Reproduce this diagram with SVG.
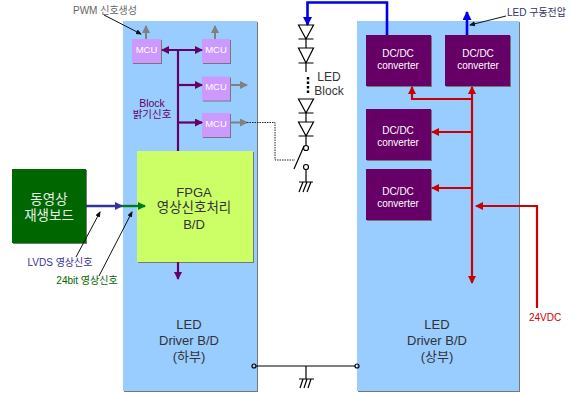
<svg xmlns="http://www.w3.org/2000/svg" width="574" height="394" viewBox="0 0 574 394">
<style>
text{font-family:"Liberation Sans","Noto Sans CJK KR",sans-serif;text-anchor:middle}
.panel{fill:#99ccff;filter:url(#sh)}
.mcu{fill:#cc99ff;filter:url(#sh)}
.mcut{fill:#fff;font-size:9.5px}
.dc{fill:#660066;filter:url(#sh)}
.dct{fill:#fff;font-size:10px}
.dark{fill:#333;font-size:13px}
.pur{stroke:#660066;stroke-width:2.2;fill:none}
.red{stroke:#cc0000;stroke-width:2.2;fill:none}
.blu{stroke:#0000e6;stroke-width:2.6;fill:none}
.gry{stroke:#808080;stroke-width:2;fill:none}
.thin{stroke:#111;stroke-width:1;fill:none}
.lin{stroke:#000;stroke-width:1.2;fill:none}
.dio{fill:none;stroke:#000;stroke-width:1.2}
</style>
<defs>
<filter id="sh" x="-5%" y="-5%" width="112%" height="112%"><feDropShadow dx="1" dy="1" stdDeviation="0.5" flood-color="#777"/></filter>
<marker id="mp" markerUnits="userSpaceOnUse" markerWidth="8" markerHeight="8" refX="7" refY="4" orient="auto-start-reverse"><path d="M0 0L8 4L0 8Z" fill="#660066"/></marker>
<marker id="mr" markerUnits="userSpaceOnUse" markerWidth="8" markerHeight="8" refX="7" refY="4" orient="auto-start-reverse"><path d="M0 0L8 4L0 8Z" fill="#cc0000"/></marker>
<marker id="mb" markerUnits="userSpaceOnUse" markerWidth="9" markerHeight="9" refX="8" refY="4.5" orient="auto"><path d="M0 0L9 4.500L0 9Z" fill="#0000e6"/></marker>
<marker id="mg" markerUnits="userSpaceOnUse" markerWidth="8" markerHeight="8" refX="7" refY="4" orient="auto"><path d="M0 0L8 4L0 8Z" fill="#808080"/></marker>
<marker id="mn" markerUnits="userSpaceOnUse" markerWidth="8" markerHeight="8" refX="7" refY="4" orient="auto"><path d="M0 0L8 4L0 8Z" fill="#333399"/></marker>
<marker id="mgr" markerUnits="userSpaceOnUse" markerWidth="8" markerHeight="8" refX="7" refY="4" orient="auto"><path d="M0 0L8 4L0 8Z" fill="#007a1f"/></marker>
<marker id="mk" markerUnits="userSpaceOnUse" markerWidth="6" markerHeight="6" refX="5" refY="3" orient="auto"><path d="M0 0.500L6 3L0 5.500Z" fill="#111"/></marker>
</defs>
<g id="panel-lower"><rect class="panel" x="123" y="21" width="134" height="370"/>
<text class="dark" x="189" y="329">LED</text><text class="dark" x="189" y="345">Driver B/D</text><text class="dark" x="189" y="361">(하부)</text></g>
<g id="panel-upper"><rect class="panel" x="357" y="21" width="162" height="370"/>
<text class="dark" x="437" y="329">LED</text><text class="dark" x="437" y="345">Driver B/D</text><text class="dark" x="437" y="361">(상부)</text></g>
<g id="mcu-1"><rect class="mcu" x="132" y="39" width="29" height="24"/><text class="mcut" x="146.500" y="53">MCU</text></g>
<g id="mcu-2"><rect class="mcu" x="202" y="39" width="28" height="24"/><text class="mcut" x="216" y="53">MCU</text></g>
<g id="mcu-3"><rect class="mcu" x="202" y="76.500" width="28" height="24"/><text class="mcut" x="216" y="90">MCU</text></g>
<g id="mcu-4"><rect class="mcu" x="202" y="113" width="28" height="24"/><text class="mcut" x="216" y="127">MCU</text></g>
<g id="fpga"><rect x="137" y="151" width="116" height="111" fill="#ccff66" filter="url(#sh)"/>
<text x="194" y="197" font-size="13" fill="#333">FPGA</text><text x="194" y="212" font-size="13.500" fill="#333">영상신호처리</text><text x="194" y="229" font-size="13" fill="#333">B/D</text></g>
<g id="video-board"><rect x="12" y="169" width="74" height="74" fill="#006600" filter="url(#sh)"/>
<text x="49" y="204" font-size="13.500" fill="#e6f2e6">동영상</text><text x="49" y="220" font-size="13.500" fill="#e6f2e6">재생보드</text></g>
<g id="dc-1"><rect class="dc" x="366" y="35" width="65" height="51"/><text class="dct" x="398" y="57">DC/DC</text><text class="dct" x="398" y="69">converter</text></g>
<g id="dc-2"><rect class="dc" x="445" y="35" width="65" height="51"/><text class="dct" x="478" y="57">DC/DC</text><text class="dct" x="478" y="69">converter</text></g>
<g id="dc-3"><rect class="dc" x="366" y="109" width="65" height="51"/><text class="dct" x="398" y="134">DC/DC</text><text class="dct" x="398" y="146">converter</text></g>
<g id="dc-4"><rect class="dc" x="366" y="169" width="65" height="51"/><text class="dct" x="398" y="195">DC/DC</text><text class="dct" x="398" y="207">converter</text></g>
<g id="connectors">
<path class="pur" d="M178 50V151"/>
<path class="pur" d="M178 262V279" marker-end="url(#mp)"/>
<path class="pur" d="M162 50H202" marker-start="url(#mp)" marker-end="url(#mp)"/>
<path class="pur" d="M178 85H202" marker-end="url(#mp)"/>
<path class="pur" d="M178 122.500H202" marker-end="url(#mp)"/>
<path class="gry" d="M146 39V26" marker-end="url(#mg)"/>
<path class="gry" d="M215 39V26" marker-end="url(#mg)"/>
<path class="gry" d="M230 85H247" marker-end="url(#mg)"/>
<path class="gry" d="M230 122.500H247" marker-end="url(#mg)"/>
<path d="M247 122.500H275V160H295" fill="none" stroke="#222" stroke-width="1" stroke-dasharray="1.500 1"/>
<path class="blu" d="M387 35V2.500H307.500V25" marker-end="url(#mb)"/>
<path class="blu" d="M467 35V12" marker-end="url(#mb)"/>
<path class="red" d="M472 87V283" marker-start="url(#mr)" marker-end="url(#mr)"/>
<path class="red" d="M472 99H412V87" marker-end="url(#mr)"/>
<path class="red" d="M472 132H432" marker-end="url(#mr)"/>
<path class="red" d="M472 188H432" marker-end="url(#mr)"/>
<path class="red" d="M537 308V206H476" marker-end="url(#mr)"/>
<path d="M86 206H122" stroke="#333399" stroke-width="2.400" fill="none" marker-end="url(#mn)"/>
<path d="M122 206H145" stroke="#007a1f" stroke-width="2.400" fill="none" marker-end="url(#mgr)"/>
<path class="thin" d="M104 15L141 34" marker-end="url(#mk)"/>
<path class="thin" d="M506 16L470 25" marker-end="url(#mk)"/>
<path class="thin" d="M76 257L100 212" marker-end="url(#mk)"/>
<path class="thin" d="M99 276L132 212" marker-end="url(#mk)"/>
<path class="dio" d="M298.500 25H313.500L306 39ZM298.500 39H313.500M306 39V48M298.500 48H313.500L306 63ZM298.500 63H313.500M306 63V72"/>
<path d="M308 77V95" fill="none" stroke="#000" stroke-width="2.400" stroke-dasharray="2.500 2"/>
<path class="dio" d="M298.500 99H313.500L306 113ZM298.500 113H313.500M306 113V122M298.500 122H313.500L306 136ZM298.500 136H313.500M306 136V145.500"/>
<circle class="lin" cx="306" cy="148" r="2.500"/><circle class="lin" cx="306" cy="167" r="2.500"/>
<path class="lin" d="M304 146L294 169M306 169.500V182M299 182H313M303 182L299 192M307 182L303 192M311 182L307 192"/>
<circle class="lin" cx="254" cy="366" r="2"/><circle class="lin" cx="357" cy="366" r="2"/>
<path class="lin" d="M256 366H355M306 366V379M299 379H314M303 379L300 388M307 379L304 388M311 379L308 388"/>
</g>
<g id="labels">
<text x="105" y="14" font-size="10" fill="#666">PWM 신호생성</text>
<text x="152" y="107" font-size="10.500" fill="#660066">Block</text>
<text x="152" y="118" font-size="10.500" fill="#660066">밝기신호</text>
<text x="329" y="81" font-size="12" fill="#333">LED</text>
<text x="329" y="95" font-size="12" fill="#333">Block</text>
<text x="536.500" y="15.500" font-size="10" fill="#333366">LED 구동전압</text>
<text x="60" y="266" font-size="10" fill="#333399">LVDS 영상신호</text>
<text x="87" y="284" font-size="10" fill="#006600">24bit 영상신호</text>
<text x="545" y="321" font-size="10" fill="#cc0000">24VDC</text>
</g>
</svg>
